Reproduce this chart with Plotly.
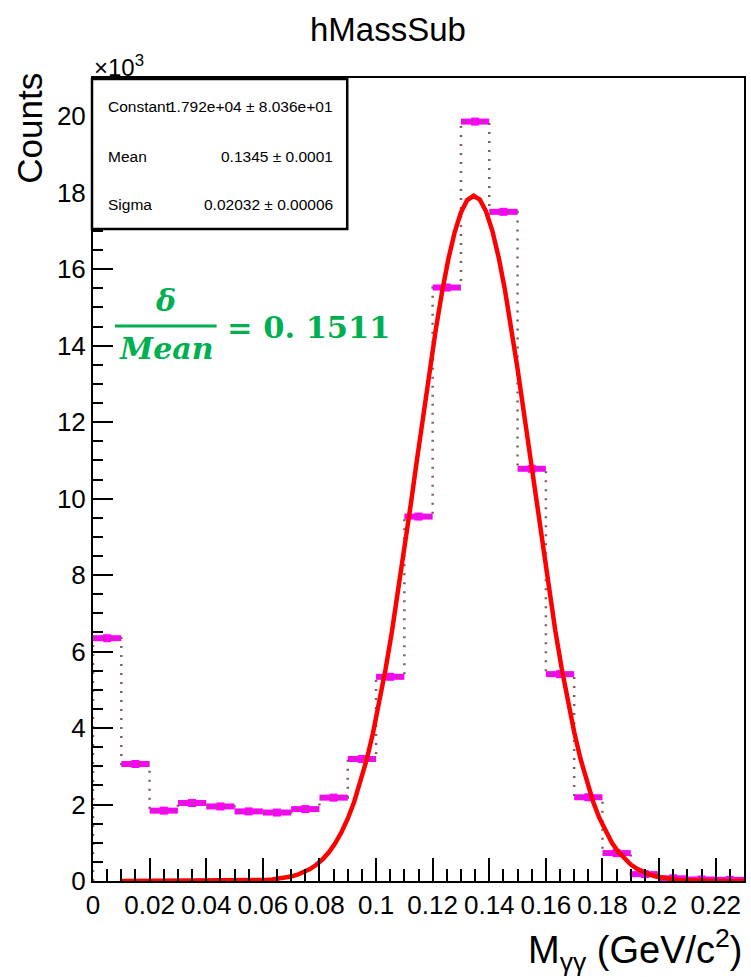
import numpy as np
import plotly.graph_objects as go

# ---- data ----
bin_centers = [0.005, 0.015, 0.025, 0.035, 0.045, 0.055, 0.065, 0.075, 0.085, 0.095,
               0.105, 0.115, 0.125, 0.135, 0.145, 0.155, 0.165, 0.175, 0.185, 0.195,
               0.205, 0.215, 0.225]
counts = [6350, 3060, 1840, 2040, 1950, 1820, 1790, 1880, 2180, 3190,
          5340, 9530, 15520, 19860, 17500, 10780, 5410, 2190, 730, 180,
          70, 40, 30]
bin_width = 0.01

fit_constant = 1.792e4
fit_mean = 0.1345
fit_sigma = 0.02032
fit_range = [0.01, 0.23]

y_tick_vals = [0, 2000, 4000, 6000, 8000, 10000, 12000, 14000, 16000, 18000, 20000]
y_tick_text = ["0", "2", "4", "6", "8", "10", "12", "14", "16", "18", "20"]
x_tick_vals = [0, 0.02, 0.04, 0.06, 0.08, 0.1, 0.12, 0.14, 0.16, 0.18, 0.2, 0.22]
x_tick_text = ["0", "0.02", "0.04", "0.06", "0.08", "0.1", "0.12", "0.14", "0.16", "0.18", "0.2", "0.22"]

stats_rows = [("Constant", "1.792e+04 ± 8.036e+01"),
              ("Mean", "0.1345 ± 0.0001"),
              ("Sigma", "0.02032 ± 0.00006")]

# ---- geometry ----
W, H = 751, 977
L, R, T, B = 93, 5, 78, 96
PW, PH = W - L - R, H - T - B


def px(xp):
    return (xp - L) / PW


def py(yp):
    return (H - B - yp) / PH


FONT = "Liberation Sans, Arial, Helvetica, sans-serif"

# step line
edges_x = [bin_centers[0] - bin_width / 2] + [c - bin_width / 2 for c in bin_centers] + [bin_centers[-1] + bin_width / 2]
step_y = [0] + list(counts) + [counts[-1]]

fx = np.linspace(fit_range[0], fit_range[1], 100)
fy = fit_constant * np.exp(-0.5 * ((fx - fit_mean) / fit_sigma) ** 2)

fig = go.Figure()
fig.add_trace(go.Scatter(
    x=bin_centers, y=counts, mode="markers",
    marker=dict(symbol="square", size=8, color="#ff00ff", line=dict(width=0)),
    error_x=dict(type="constant", value=bin_width / 2, thickness=6, width=0, color="#ff00ff"),
    showlegend=False))
fig.add_trace(go.Scatter(
    x=edges_x, y=step_y, mode="lines", line_shape="hv",
    line=dict(color="rgb(128,98,84)", width=2.5, dash="2px,7px"),
    showlegend=False))
fig.add_trace(go.Scatter(
    x=fx, y=fy, mode="lines",
    line=dict(color="#ff0000", width=4.5),
    showlegend=False))

axis_common = dict(showline=True, linecolor="black", linewidth=2, mirror=True,
                   ticks="inside", tickcolor="black", tickwidth=2,
                   showgrid=False, zeroline=False,
                   tickfont=dict(family=FONT, size=26, color="black"))

fig.update_xaxes(range=[0, 0.23], tickvals=x_tick_vals, ticktext=x_tick_text, ticklen=23,
                 minor=dict(dtick=0.005, tick0=0, ticks="inside", ticklen=12, tickwidth=2, tickcolor="black"),
                 **axis_common)
fig.update_yaxes(range=[0, 21000], tickvals=y_tick_vals, ticktext=y_tick_text, ticklen=20,
                 minor=dict(dtick=500, tick0=0, ticks="inside", ticklen=10, tickwidth=2, tickcolor="black"),
                 **axis_common)

annotations = []
shapes = []

# stats box
shapes.append(dict(type="rect", xref="paper", yref="paper",
                   x0=px(92), x1=px(348), y0=py(229), y1=py(79),
                   fillcolor="white", line=dict(color="black", width=2.5), layer="above"))
row_y = [106, 156, 205]
for (lab, val), yy in zip(stats_rows, row_y):
    annotations.append(dict(text=lab, xref="paper", yref="paper", x=px(106), y=py(yy),
                            xanchor="left", yanchor="middle", showarrow=False,
                            font=dict(family=FONT, size=15.5, color="black")))
    annotations.append(dict(text=val, xref="paper", yref="paper", x=px(336), y=py(yy),
                            xanchor="right", yanchor="middle", showarrow=False,
                            font=dict(family=FONT, size=15.5, color="black")))

# x10^3
annotations.append(dict(text="×10<sup>3</sup>", xref="paper", yref="paper", x=px(92), y=py(66),
                        xanchor="left", yanchor="middle", showarrow=False,
                        font=dict(family=FONT, size=24, color="black")))
# y title
annotations.append(dict(text="Counts", xref="paper", yref="paper", x=px(29), y=py(71),
                        xanchor="center", yanchor="top", textangle=-90, showarrow=False,
                        font=dict(family=FONT, size=35, color="black")))
# x title
annotations.append(dict(text="M<sub>γγ</sub> (GeV/c<sup>2</sup>)", xref="paper", yref="paper",
                        x=px(747), y=py(950), xanchor="right", yanchor="middle", showarrow=False,
                        font=dict(family=FONT, size=38, color="black")))
# title
annotations.append(dict(text="hMassSub", xref="paper", yref="paper", x=px(389), y=py(30),
                        xanchor="center", yanchor="middle", showarrow=False,
                        font=dict(family=FONT, size=33, color="black")))

# green formula
GREEN = "#00b050"
SERIF = "DejaVu Serif, Liberation Serif, serif"
annotations.append(dict(text="<b><i>δ</i></b>", xref="paper", yref="paper", x=px(166), y=py(300),
                        xanchor="center", yanchor="middle", showarrow=False,
                        font=dict(family=SERIF, size=30, color=GREEN)))
annotations.append(dict(text="<b><i>Mean</i></b>", xref="paper", yref="paper", x=px(167), y=py(348),
                        xanchor="center", yanchor="middle", showarrow=False,
                        font=dict(family=SERIF, size=30, color=GREEN)))
annotations.append(dict(text="<b>= 0. 1511</b>", xref="paper", yref="paper", x=px(225), y=py(327),
                        xanchor="left", yanchor="middle", showarrow=False,
                        font=dict(family=SERIF, size=30.5, color=GREEN)))
shapes.append(dict(type="line", xref="paper", yref="paper", x0=px(115), x1=px(217),
                   y0=py(326), y1=py(326), line=dict(color=GREEN, width=3)))

fig.update_layout(width=W, height=H, margin=dict(l=L, r=R, t=T, b=B),
                  paper_bgcolor="white", plot_bgcolor="white",
                  annotations=annotations, shapes=shapes, showlegend=False)

fig.write_html("out.html")
